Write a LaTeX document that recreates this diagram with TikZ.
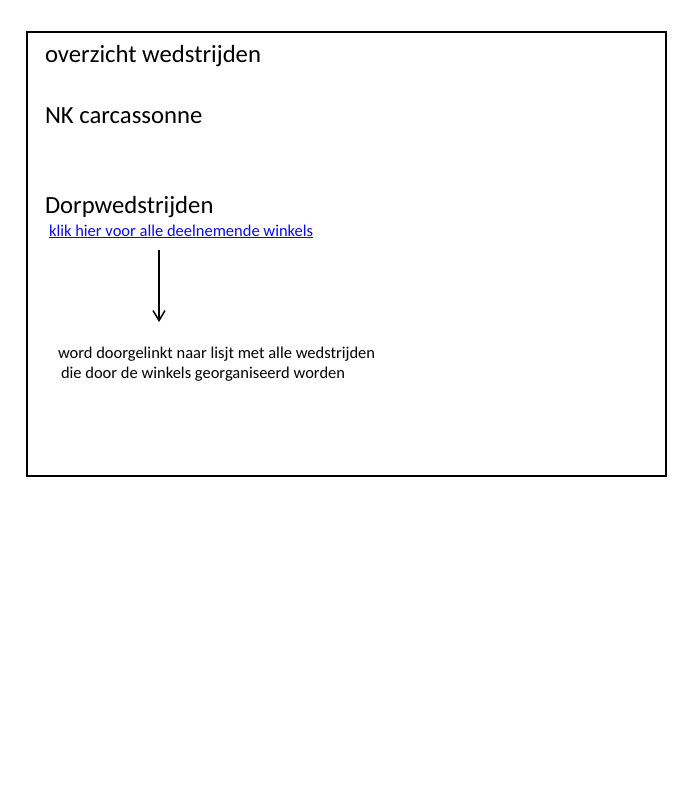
\documentclass[tikz,border=0pt]{standalone}
\usepackage{fontspec}
\setmainfont{Carlito}
\usetikzlibrary{arrows.meta}
\definecolor{linkblue}{RGB}{10,10,235}
\begin{document}
\begin{tikzpicture}[x=1pt,y=-1pt,
  txt/.style={anchor=base west,inner sep=0pt,outer sep=0pt},
  big/.style={txt,font=\fontsize{24.7}{29}\selectfont},
  small/.style={txt,font=\fontsize{16.5}{19}\selectfont},
  frame/.style={draw,line width=1.8pt}]
\useasboundingbox (0,0) rectangle (690,800);
\draw[frame] (27,32) rectangle (666,476);
\node[big] (title) at (45,62.5) {overzicht wedstrijden};
\node[big] (nk) at (45,123.5) {NK carcassonne};
\node[big] (dorp) at (45,213.5) {Dorpwedstrijden};
\node[small,text=linkblue] (link) at (49,236) {\underline{klik hier voor alle deelnemende winkels}};
\coordinate (a1) at (159,250);
\coordinate (a2) at (159,322);
\draw[line width=1.5pt,-{Straight Barb[length=10pt,width=12pt,line width=1.5pt]}] (a1) -- (a2);
\node[small] (l1) at (58,358) {word doorgelinkt naar lisjt met alle wedstrijden};
\node[small] (l2) at (61,378) {die door de winkels georganiseerd worden};
\end{tikzpicture}
\end{document}
